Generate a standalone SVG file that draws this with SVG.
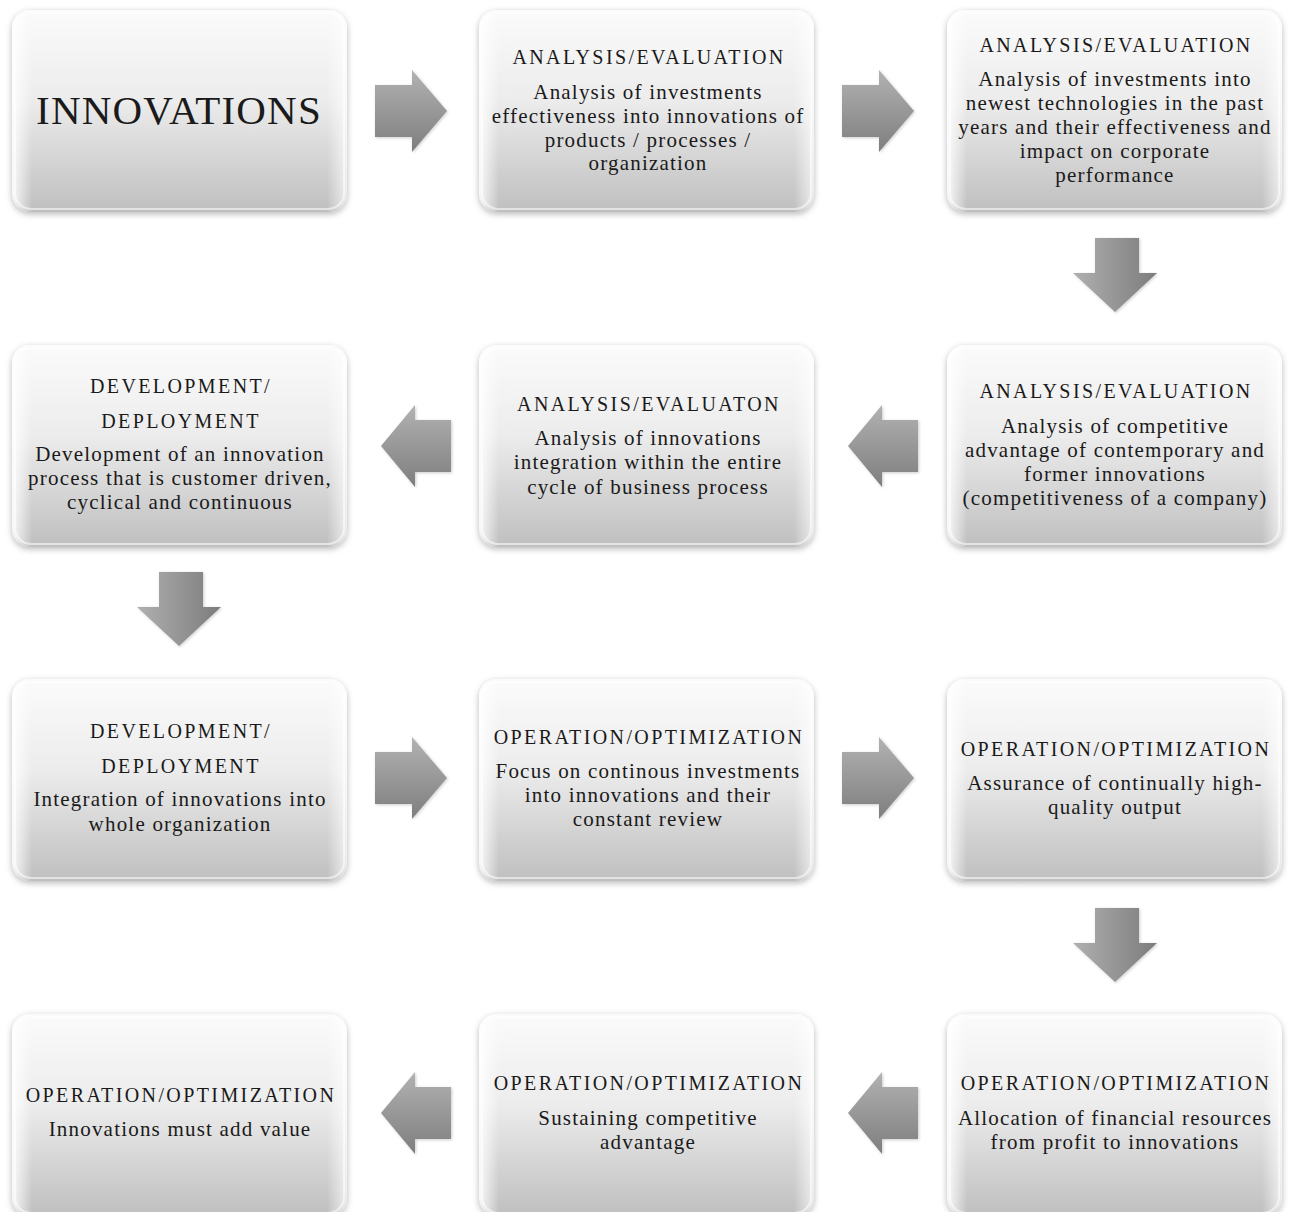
<svg xmlns="http://www.w3.org/2000/svg" width="1293" height="1212" viewBox="0 0 1293 1212">
  <defs>
    <linearGradient id="boxFill" x1="0" y1="0" x2="0" y2="1">
      <stop offset="0" stop-color="#fbfbfb"/>
      <stop offset="0.45" stop-color="#ececec"/>
      <stop offset="1" stop-color="#bfbfbf"/>
    </linearGradient>
    <linearGradient id="boxEdge" x1="0" y1="0" x2="1" y2="0">
      <stop offset="0" stop-color="#ffffff" stop-opacity="0.9"/>
      <stop offset="0.06" stop-color="#ffffff" stop-opacity="0"/>
      <stop offset="0.94" stop-color="#ffffff" stop-opacity="0"/>
      <stop offset="1" stop-color="#ffffff" stop-opacity="0.7"/>
    </linearGradient>
    <linearGradient id="arrowH" x1="0" y1="0" x2="0" y2="1">
      <stop offset="0" stop-color="#b2b2b2"/>
      <stop offset="1" stop-color="#7e7e7e"/>
    </linearGradient>
    <linearGradient id="arrowV" x1="0" y1="0" x2="1" y2="0">
      <stop offset="0" stop-color="#b0b0b0"/>
      <stop offset="1" stop-color="#7c7c7c"/>
    </linearGradient>
    <filter id="soft" x="-10%" y="-10%" width="120%" height="125%">
      <feGaussianBlur in="SourceAlpha" stdDeviation="3"/>
      <feOffset dx="0" dy="2" result="b"/>
      <feFlood flood-color="#000" flood-opacity="0.28"/>
      <feComposite in2="b" operator="in"/>
      <feMerge><feMergeNode/><feMergeNode in="SourceGraphic"/></feMerge>
    </filter>
    <filter id="arrowShade" x="-20%" y="-20%" width="140%" height="140%">
      <feGaussianBlur in="SourceAlpha" stdDeviation="1.5"/>
      <feOffset dx="1" dy="1" result="b"/>
      <feFlood flood-color="#000" flood-opacity="0.2"/>
      <feComposite in2="b" operator="in"/>
      <feMerge><feMergeNode/><feMergeNode in="SourceGraphic"/></feMerge>
    </filter>
    <!-- arrow shapes, drawn around their own origin -->
    <path id="arrowRight" d="M0,15 H37 V0 L72,41 L37,82 V67 H0 Z"/>
    <path id="arrowLeft" d="M70,15 H34 V0 L0,41 L34,82 V67 H70 Z"/>
    <path id="arrowDown" d="M22,0 H66 V35 H84 L42,74 L0,35 H22 Z"/>
  </defs>
  <style>
    .box { fill: url(#boxFill); filter: url(#soft); }
    .sheen { fill: url(#boxEdge); }
    .rim { fill: none; stroke: #ffffff; stroke-opacity: 0.55; stroke-width: 2; }
    .ah { fill: url(#arrowH); filter: url(#arrowShade); }
    .av { fill: url(#arrowV); filter: url(#arrowShade); }
    text { font-family: "Liberation Serif", "Times New Roman", serif; fill: #1a1a1a; text-anchor: middle; }
    .t { font-size: 20px; letter-spacing: 2.4px; }
    .b { font-size: 21px; letter-spacing: 1.2px; }
    .big { font-size: 41px; letter-spacing: 1.2px; }
  </style>
  <rect width="1293" height="1212" fill="#ffffff"/>

  <!-- connectors -->
  <g id="connectors">
    <use href="#arrowRight" class="ah" x="375" y="70"/>
    <use href="#arrowRight" class="ah" x="842" y="70"/>
    <use href="#arrowDown" class="av" x="1073" y="238"/>
    <use href="#arrowLeft" class="ah" x="848" y="405"/>
    <use href="#arrowLeft" class="ah" x="381" y="405"/>
    <use href="#arrowDown" class="av" x="137" y="572"/>
    <use href="#arrowRight" class="ah" x="375" y="737"/>
    <use href="#arrowRight" class="ah" x="842" y="737"/>
    <use href="#arrowDown" class="av" x="1073" y="908"/>
    <use href="#arrowLeft" class="ah" x="848" y="1072"/>
    <use href="#arrowLeft" class="ah" x="381" y="1072"/>
  </g>

  <!-- row 1 -->
  <g id="innovations">
    <rect class="box" x="12" y="10" width="335" height="202" rx="18"/>
    <rect class="sheen" x="12" y="10" width="335" height="202" rx="18"/>
    <rect class="rim" x="15" y="13" width="329" height="196" rx="16"/>
    <text class="big" x="179" y="124">INNOVATIONS</text>
  </g>
  <g id="ae-investments">
    <rect class="box" x="479" y="10" width="335" height="202" rx="18"/>
    <rect class="sheen" x="479" y="10" width="335" height="202" rx="18"/>
    <rect class="rim" x="482" y="13" width="329" height="196" rx="16"/>
    <text class="t" x="649" y="64">ANALYSIS/EVALUATION</text>
    <text class="b" x="648" y="99">Analysis of investments</text>
    <text class="b" x="648" y="123">effectiveness into innovations of</text>
    <text class="b" x="648" y="147">products / processes /</text>
    <text class="b" x="648" y="170">organization</text>
  </g>
  <g id="ae-technologies">
    <rect class="box" x="947" y="10" width="335" height="202" rx="18"/>
    <rect class="sheen" x="947" y="10" width="335" height="202" rx="18"/>
    <rect class="rim" x="950" y="13" width="329" height="196" rx="16"/>
    <text class="t" x="1116" y="52">ANALYSIS/EVALUATION</text>
    <text class="b" x="1115" y="86">Analysis of investments into</text>
    <text class="b" x="1115" y="110">newest technologies in the past</text>
    <text class="b" x="1115" y="134">years and their effectiveness and</text>
    <text class="b" x="1115" y="158">impact on corporate</text>
    <text class="b" x="1115" y="182">performance</text>
  </g>

  <!-- row 2 -->
  <g id="dd-process">
    <rect class="box" x="12" y="345" width="335" height="202" rx="18"/>
    <rect class="sheen" x="12" y="345" width="335" height="202" rx="18"/>
    <rect class="rim" x="15" y="348" width="329" height="196" rx="16"/>
    <text class="t" x="181" y="393">DEVELOPMENT/</text>
    <text class="t" x="181" y="428">DEPLOYMENT</text>
    <text class="b" x="180" y="461">Development of an innovation</text>
    <text class="b" x="180" y="485">process that is customer driven,</text>
    <text class="b" x="180" y="509">cyclical and continuous</text>
  </g>
  <g id="ae-integration">
    <rect class="box" x="479" y="345" width="335" height="202" rx="18"/>
    <rect class="sheen" x="479" y="345" width="335" height="202" rx="18"/>
    <rect class="rim" x="482" y="348" width="329" height="196" rx="16"/>
    <text class="t" x="649" y="411">ANALYSIS/EVALUATON</text>
    <text class="b" x="648" y="445">Analysis of innovations</text>
    <text class="b" x="648" y="469">integration within the entire</text>
    <text class="b" x="648" y="494">cycle of business process</text>
  </g>
  <g id="ae-competitive">
    <rect class="box" x="947" y="345" width="335" height="202" rx="18"/>
    <rect class="sheen" x="947" y="345" width="335" height="202" rx="18"/>
    <rect class="rim" x="950" y="348" width="329" height="196" rx="16"/>
    <text class="t" x="1116" y="398">ANALYSIS/EVALUATION</text>
    <text class="b" x="1115" y="433">Analysis of competitive</text>
    <text class="b" x="1115" y="457">advantage of contemporary and</text>
    <text class="b" x="1115" y="481">former innovations</text>
    <text class="b" x="1115" y="505">(competitiveness of a company)</text>
  </g>

  <!-- row 3 -->
  <g id="dd-integration">
    <rect class="box" x="12" y="679" width="335" height="202" rx="18"/>
    <rect class="sheen" x="12" y="679" width="335" height="202" rx="18"/>
    <rect class="rim" x="15" y="682" width="329" height="196" rx="16"/>
    <text class="t" x="181" y="738">DEVELOPMENT/</text>
    <text class="t" x="181" y="773">DEPLOYMENT</text>
    <text class="b" x="180" y="806">Integration of innovations into</text>
    <text class="b" x="180" y="831">whole organization</text>
  </g>
  <g id="oo-focus">
    <rect class="box" x="479" y="679" width="335" height="202" rx="18"/>
    <rect class="sheen" x="479" y="679" width="335" height="202" rx="18"/>
    <rect class="rim" x="482" y="682" width="329" height="196" rx="16"/>
    <text class="t" x="649" y="744">OPERATION/OPTIMIZATION</text>
    <text class="b" x="648" y="778">Focus on continous investments</text>
    <text class="b" x="648" y="802">into innovations and their</text>
    <text class="b" x="648" y="826">constant review</text>
  </g>
  <g id="oo-quality">
    <rect class="box" x="947" y="679" width="335" height="202" rx="18"/>
    <rect class="sheen" x="947" y="679" width="335" height="202" rx="18"/>
    <rect class="rim" x="950" y="682" width="329" height="196" rx="16"/>
    <text class="t" x="1116" y="756">OPERATION/OPTIMIZATION</text>
    <text class="b" x="1115" y="790">Assurance of continually high-</text>
    <text class="b" x="1115" y="814">quality output</text>
  </g>

  <!-- row 4 -->
  <g id="oo-value">
    <rect class="box" x="12" y="1014" width="335" height="202" rx="18"/>
    <rect class="sheen" x="12" y="1014" width="335" height="202" rx="18"/>
    <rect class="rim" x="15" y="1017" width="329" height="196" rx="16"/>
    <text class="t" x="181" y="1102">OPERATION/OPTIMIZATION</text>
    <text class="b" x="180" y="1136">Innovations must add value</text>
  </g>
  <g id="oo-sustaining">
    <rect class="box" x="479" y="1014" width="335" height="202" rx="18"/>
    <rect class="sheen" x="479" y="1014" width="335" height="202" rx="18"/>
    <rect class="rim" x="482" y="1017" width="329" height="196" rx="16"/>
    <text class="t" x="649" y="1090">OPERATION/OPTIMIZATION</text>
    <text class="b" x="648" y="1125">Sustaining competitive</text>
    <text class="b" x="648" y="1149">advantage</text>
  </g>
  <g id="oo-allocation">
    <rect class="box" x="947" y="1014" width="335" height="202" rx="18"/>
    <rect class="sheen" x="947" y="1014" width="335" height="202" rx="18"/>
    <rect class="rim" x="950" y="1017" width="329" height="196" rx="16"/>
    <text class="t" x="1116" y="1090">OPERATION/OPTIMIZATION</text>
    <text class="b" x="1115" y="1125">Allocation of financial resources</text>
    <text class="b" x="1115" y="1149">from profit to innovations</text>
  </g>
</svg>
